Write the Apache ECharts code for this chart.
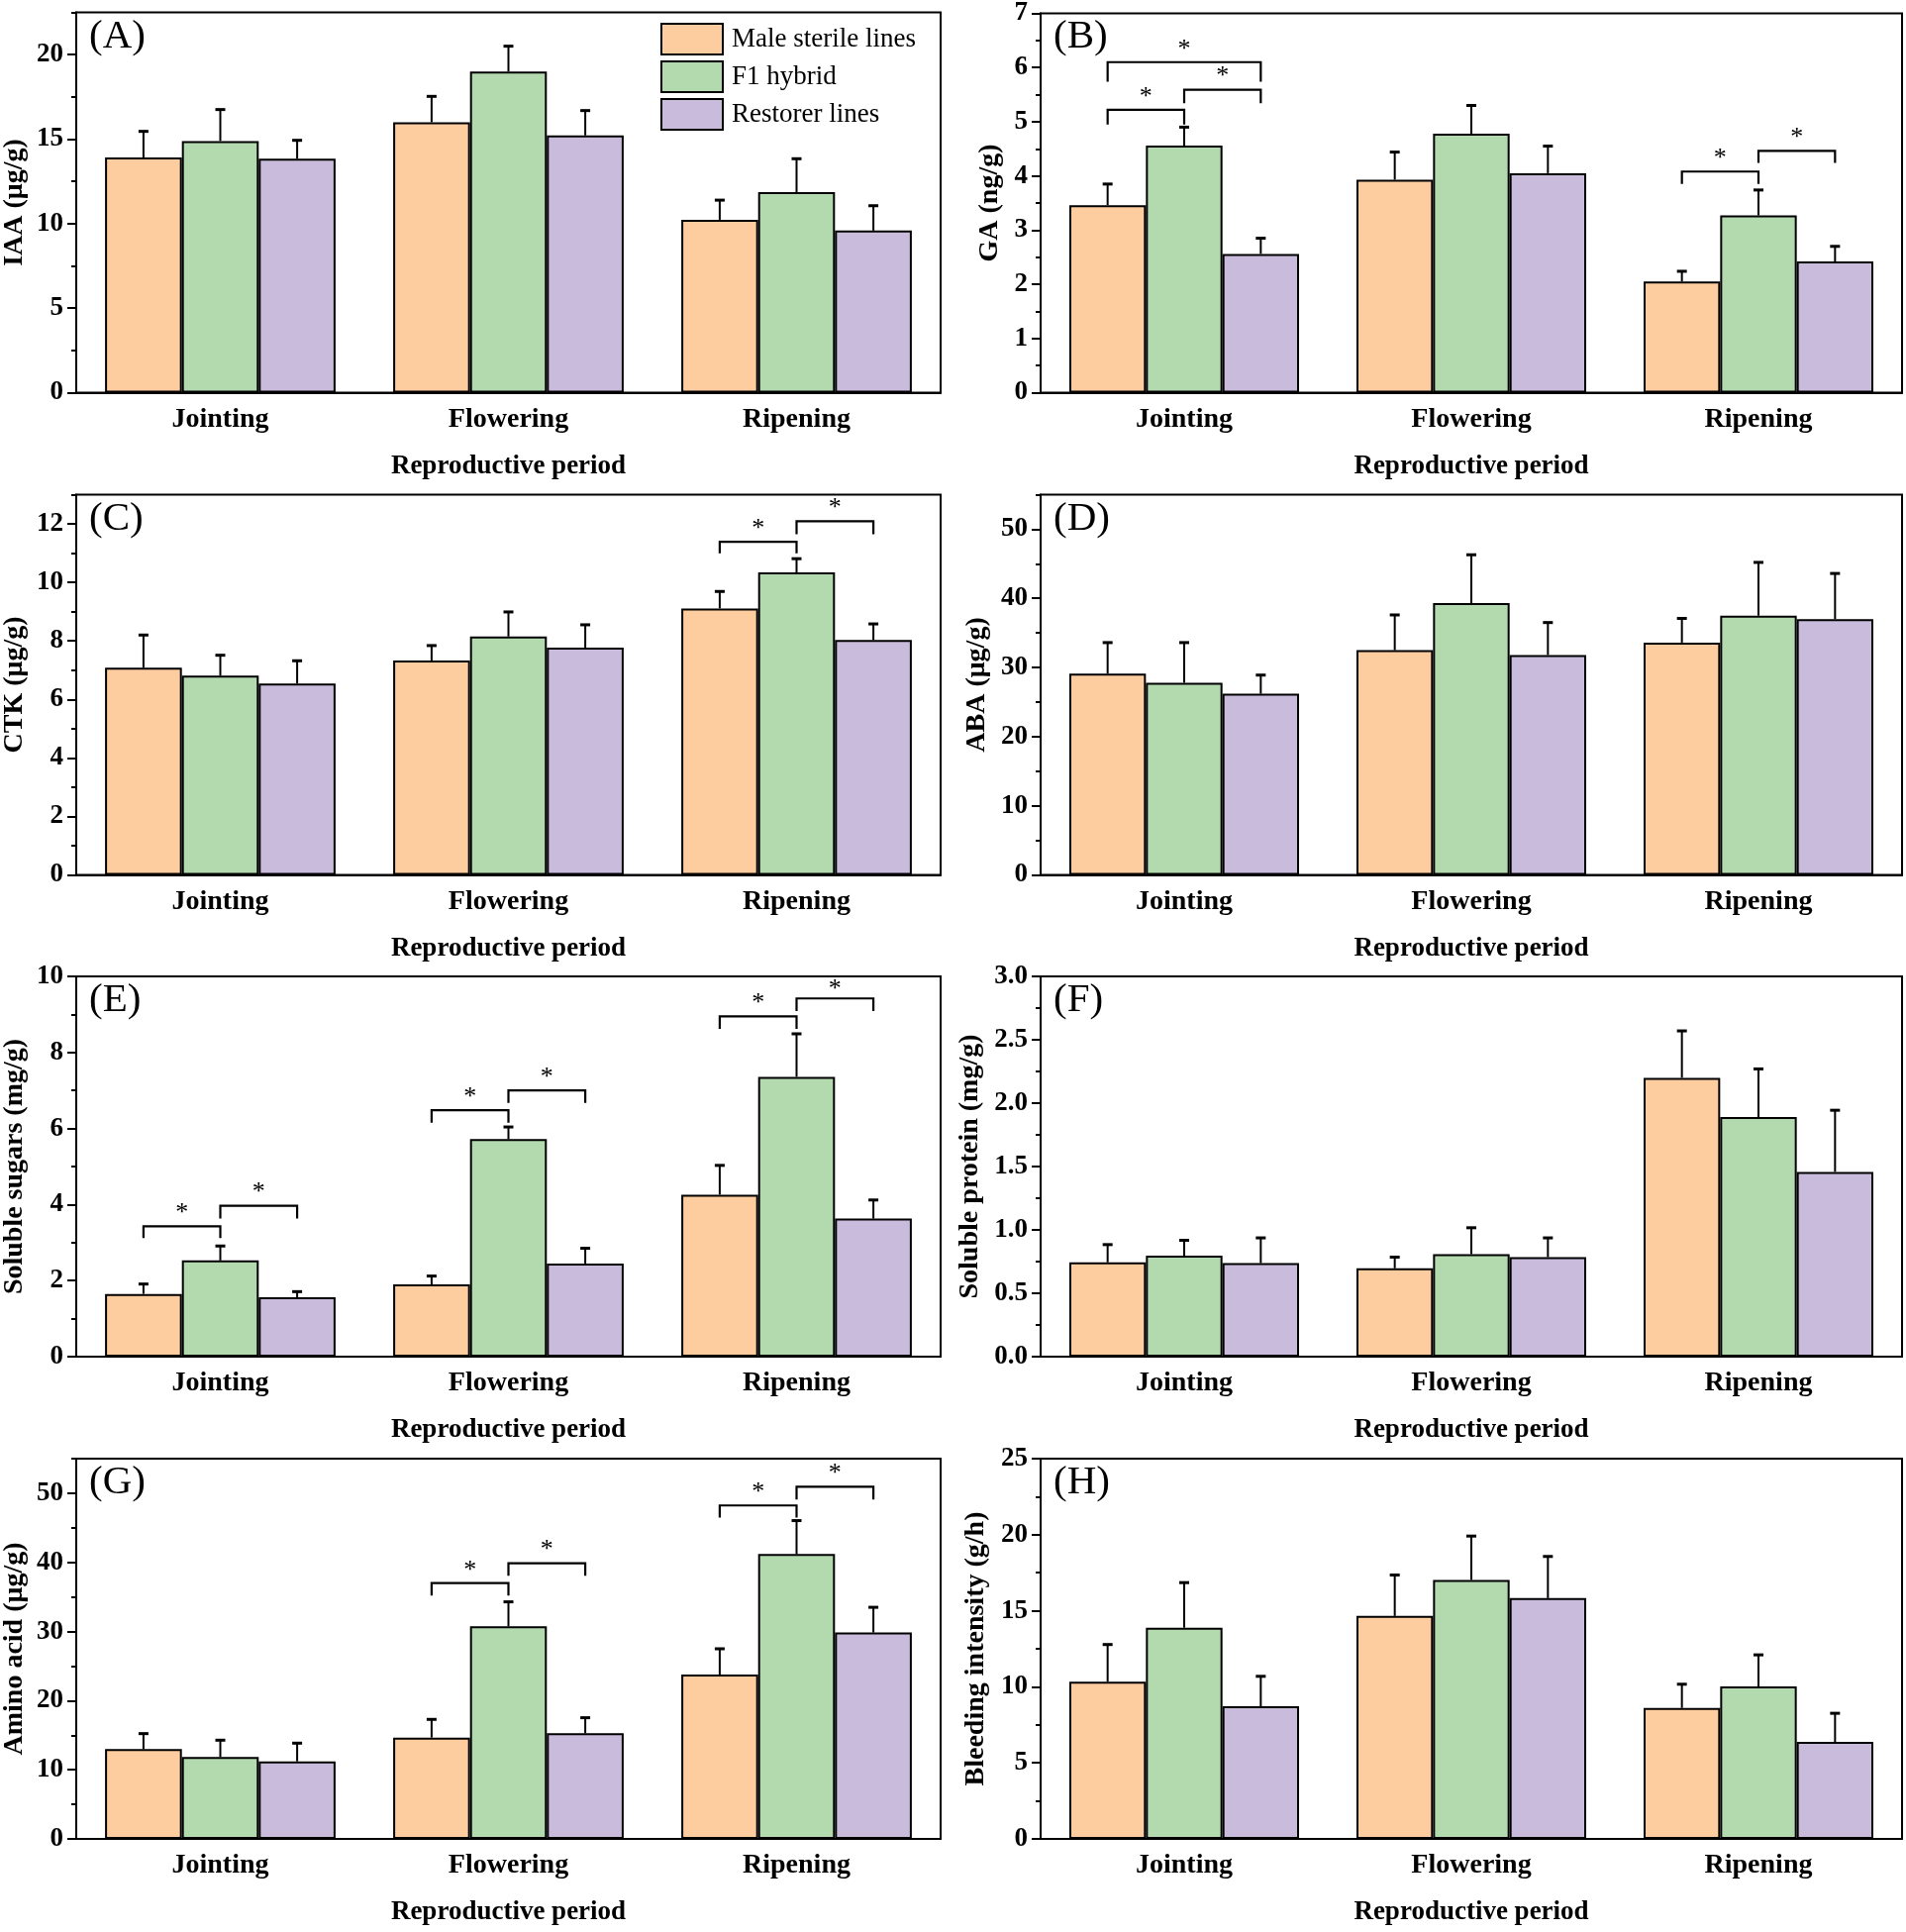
<!DOCTYPE html>
<html>
<head>
<meta charset="utf-8">
<script src="https://cdn.jsdelivr.net/npm/echarts@6/dist/echarts.min.js"></script>
<style>html,body{margin:0;padding:0;background:#fff}#c{width:1925px;height:1951px}</style>
</head>
<body>
<div id="c"></div>
<script>
// ---------- data ----------
const categories = ['Jointing', 'Flowering', 'Ripening'];
const seriesNames = ['Male sterile lines', 'F1 hybrid', 'Restorer lines'];
const seriesColors = ['#FDCC9F', '#B2DAAE', '#C9BBDB'];
const panelLabels = ['(A)', '(B)', '(C)', '(D)', '(E)', '(F)', '(G)', '(H)'];
const yNames = ['IAA (μg/g)', 'GA (ng/g)', 'CTK (μg/g)', 'ABA (μg/g)',
  'Soluble sugars (mg/g)', 'Soluble protein (mg/g)', 'Amino acid (μg/g)', 'Bleeding intensity (g/h)'];
const yMax = [22.5, 7, 13, 55, 10, 3, 55, 25];
const yInterval = [5, 1, 2, 10, 2, 0.5, 10, 5];
const yMinorInterval = [2.5, 0.5, 1, 5, 1, 0.25, 5, 2.5];

// means (rows: male sterile, F1 hybrid, restorer; columns: jointing, flowering, ripening)
const IAA_mean = [[13.91, 16.00, 10.23], [14.89, 19.00, 11.86], [13.84, 15.22, 9.59]];
const IAA_sd = [[1.55, 1.53, 1.16], [1.86, 1.50, 1.98], [1.09, 1.47, 1.47]];
const GA_mean = [[3.46, 3.93, 2.05], [4.56, 4.78, 3.27], [2.56, 4.05, 2.42]];
const GA_sd = [[0.39, 0.51, 0.19], [0.34, 0.52, 0.47], [0.29, 0.50, 0.28]];
const CTK_mean = [[7.08, 7.33, 9.11], [6.81, 8.15, 10.34], [6.54, 7.77, 8.03]];
const CTK_sd = [[1.12, 0.51, 0.58], [0.70, 0.84, 0.47], [0.78, 0.78, 0.55]];
const ABA_mean = [[29.1, 32.5, 33.6], [27.8, 39.3, 37.5], [26.2, 31.8, 37.0]];
const ABA_sd = [[4.5, 5.1, 3.5], [5.8, 7.0, 7.7], [2.7, 4.7, 6.6]];
const SS_mean = [[1.65, 1.90, 4.26], [2.53, 5.72, 7.36], [1.56, 2.45, 3.63]];
const SS_sd = [[0.26, 0.22, 0.77], [0.38, 0.32, 1.13], [0.15, 0.40, 0.49]];
const SP_mean = [[0.744, 0.697, 2.20], [0.796, 0.809, 1.89], [0.738, 0.785, 1.458]];
const SP_sd = [[0.140, 0.088, 0.37], [0.122, 0.208, 0.38], [0.199, 0.152, 0.486]];
const AA_mean = [[12.99, 14.66, 23.78], [11.84, 30.75, 41.20], [11.22, 15.28, 29.85]];
const AA_sd = [[2.24, 2.63, 3.72], [2.44, 3.54, 4.84], [2.63, 2.25, 3.65]];
const BI_mean = [[10.33, 14.66, 8.61], [13.88, 17.03, 10.02], [8.72, 15.83, 6.38]];
const BI_sd = [[2.45, 2.69, 1.56], [2.97, 2.88, 2.08], [1.97, 2.74, 1.88]];

// significance brackets: [category, fromSeries, toSeries, bracketY, legBottomY]
const GA_sig = [[0, 0, 1, 5.22, 4.95], [0, 1, 2, 5.59, 5.34], [0, 0, 2, 6.10, 5.74], [2, 0, 1, 4.08, 3.85], [2, 1, 2, 4.46, 4.24]];
const CTK_sig = [[2, 0, 1, 11.39, 10.99], [2, 1, 2, 12.09, 11.65]];
const SS_sig = [[0, 0, 1, 3.43, 3.12], [0, 1, 2, 3.97, 3.63], [1, 0, 1, 6.48, 6.15], [1, 1, 2, 7.00, 6.67], [2, 0, 1, 8.95, 8.62], [2, 1, 2, 9.42, 9.09]];
const AA_sig = [[1, 0, 1, 37.0, 35.2], [1, 1, 2, 39.87, 38.06], [2, 0, 1, 48.23, 46.47], [2, 1, 2, 50.95, 49.1]];

const means = [IAA_mean, GA_mean, CTK_mean, ABA_mean, SS_mean, SP_mean, AA_mean, BI_mean];
const sds = [IAA_sd, GA_sd, CTK_sd, ABA_sd, SS_sd, SP_sd, AA_sd, BI_sd];
const sigs = [[], GA_sig, CTK_sig, [], SS_sig, [], AA_sig, []];

// ---------- layout ----------
const FONT = '"Liberation Serif", "Times New Roman", serif';
const colLeft = [77, 1051];
const colWidth = [873, 870];
const rowTop = [12.5, 499.5, 986, 1473];
const gridH = 384;
const yNameGap = [48, 37, 48, 50, 48, 57, 48, 51];

const chart = echarts.init(document.getElementById('c'), null, {renderer: 'canvas'});

const grids = [], xAxes = [], yAxes = [], series = [], titles = [];

function errRender(params, api) {
  const c = api.value(0), s = api.value(1), m = api.value(2), sd = api.value(3);
  const band = api.size([1, 0])[0];
  const off = (s - 1) * band * 0.8 / 3;
  const p0 = api.coord([c, m]);
  const p1 = api.coord([c, m + sd]);
  const x = p0[0] + off;
  return {
    type: 'group', children: [
      {type: 'line', shape: {x1: x, y1: p0[1], x2: x, y2: p1[1]}, style: {stroke: '#000', lineWidth: 2}},
      {type: 'line', shape: {x1: x - 5, y1: p1[1], x2: x + 5, y2: p1[1]}, style: {stroke: '#000', lineWidth: 3}}
    ]
  };
}
function sigRender(params, api) {
  const c = api.value(0), a = api.value(1), b = api.value(2), y = api.value(3), leg = api.value(4);
  const band = api.size([1, 0])[0];
  const w = band * 0.8 / 3;
  const pc = api.coord([c, y]);
  const pl = api.coord([c, leg]);
  const xa = pc[0] + (a - 1) * w, xb = pc[0] + (b - 1) * w;
  const starY = Math.max(pc[1] - 13, params.coordSys.y + 13);
  return {
    type: 'group', children: [
      {type: 'polyline', shape: {points: [[xa, pl[1]], [xa, pc[1]], [xb, pc[1]], [xb, pl[1]]]},
        style: {stroke: '#000', lineWidth: 2.2, fill: null}},
      {type: 'text', style: {text: '*', x: (xa + xb) / 2, y: starY, align: 'center', verticalAlign: 'middle',
        font: '26px ' + FONT, fill: '#000'}}
    ]
  };
}

for (let p = 0; p < 8; p++) {
  const col = p % 2, row = Math.floor(p / 2);
  const left = colLeft[col], top = rowTop[row];
  grids.push({left: left, top: top, width: colWidth[col], height: gridH, show: true,
    borderColor: '#000', borderWidth: 2, backgroundColor: 'transparent', containLabel: false});
  // main category axis (ticks at category centres)
  xAxes.push({type: 'category', gridIndex: p, position: 'bottom', data: categories,
    name: 'Reproductive period', nameLocation: 'middle', nameGap: 61,
    nameTextStyle: {fontFamily: FONT, fontSize: 27, fontWeight: 'bold', color: '#000'},
    axisLine: {lineStyle: {color: '#000', width: 2}},
    axisTick: {alignWithLabel: true, length: 7, lineStyle: {color: '#000', width: 2}},
    axisLabel: {fontFamily: FONT, fontSize: 28, fontWeight: 'bold', color: '#000', margin: 13},
    splitLine: {show: false}});
  // secondary category axis (short ticks at boundaries)
  xAxes.push({type: 'category', gridIndex: p, position: 'bottom', data: categories,
    axisLine: {show: false},
    axisTick: {alignWithLabel: false, length: 4, lineStyle: {color: '#000', width: 2}},
    axisLabel: {show: false}, splitLine: {show: false}});
  const dec = p === 5 ? 1 : 0;
  yAxes.push({type: 'value', gridIndex: p, position: 'left', min: 0, max: yMax[p], interval: yInterval[p],
    name: yNames[p], nameLocation: 'middle', nameRotate: 90, nameGap: yNameGap[p],
    nameTextStyle: {fontFamily: FONT, fontSize: 28, fontWeight: 'bold', color: '#000'},
    axisLine: {show: true, lineStyle: {color: '#000', width: 2}},
    axisTick: {show: true, length: 9, lineStyle: {color: '#000', width: 2}},
    axisLabel: {fontFamily: FONT, fontSize: 27, fontWeight: 'bold', color: '#000', margin: 13,
      showMaxLabel: (Math.abs(yMax[p] / yInterval[p] - Math.round(yMax[p] / yInterval[p])) < 1e-9),
      formatter: v => v.toFixed(dec)},
    splitLine: {show: false}});
  yAxes.push({type: 'value', gridIndex: p, position: 'left', min: 0, max: yMax[p], interval: yMinorInterval[p],
    axisLine: {show: false},
    axisTick: {show: true, length: 5, lineStyle: {color: '#000', width: 2}},
    axisLabel: {show: false}, splitLine: {show: false}});

  for (let s = 0; s < 3; s++) {
    series.push({type: 'bar', name: seriesNames[s], xAxisIndex: 2 * p, yAxisIndex: 2 * p,
      data: means[p][s], barGap: '0%', barCategoryGap: '20%',
      itemStyle: {color: seriesColors[s], borderColor: '#000', borderWidth: 2}, z: 2});
  }
  const errData = [];
  for (let s = 0; s < 3; s++) for (let c = 0; c < 3; c++) errData.push([c, s, means[p][s][c], sds[p][s][c]]);
  series.push({type: 'custom', xAxisIndex: 2 * p, yAxisIndex: 2 * p, data: errData,
    encode: {x: 0, y: 2}, renderItem: errRender, z: 3, silent: true});
  if (sigs[p].length) {
    series.push({type: 'custom', xAxisIndex: 2 * p, yAxisIndex: 2 * p, data: sigs[p],
      encode: {x: 0, y: 3}, renderItem: sigRender, z: 4, silent: true});
  }
  titles.push({text: panelLabels[p], left: left + 13, top: top + 4, padding: 0,
    textStyle: {fontFamily: FONT, fontSize: 41, fontWeight: 'normal', color: '#000'}});
}

chart.setOption({
  animation: false,
  backgroundColor: '#fff',
  title: titles,
  legend: {data: seriesNames, orient: 'vertical', left: 667, top: 23, padding: 0,
    itemWidth: 62, itemHeight: 31, itemGap: 5, icon: 'rect',
    textStyle: {fontFamily: FONT, fontSize: 27, color: '#000', padding: [0, 0, 0, 4]}},
  grid: grids, xAxis: xAxes, yAxis: yAxes, series: series
});
</script>
</body>
</html>
